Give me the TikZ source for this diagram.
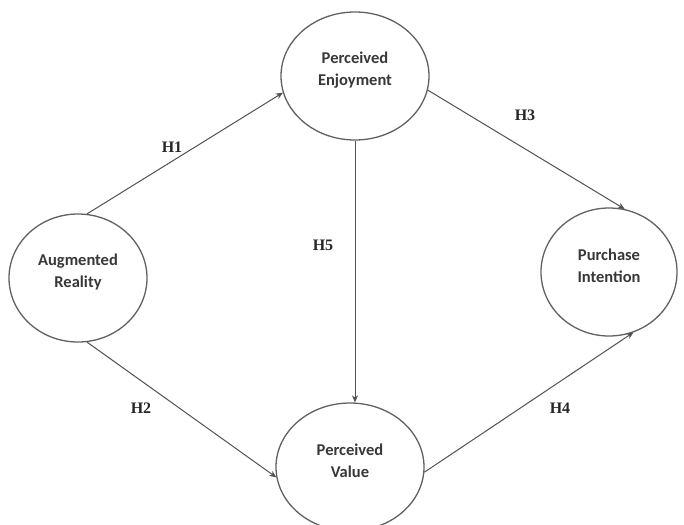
\documentclass[tikz,border=0pt]{standalone}
\usepackage{fontspec}
\setmainfont{Liberation Serif}
\newfontfamily\nodefont{Carlito}
\usetikzlibrary{shapes.geometric,arrows.meta}
\begin{document}
\begin{tikzpicture}[x=1pt,y=-1pt,
  construct/.style={draw=black!62,line width=1.3pt,ellipse,minimum width=148pt,minimum height=128pt,inner sep=0pt},
  ctext/.style={font=\nodefont\bfseries\fontsize{16.5}{22}\selectfont,text=black!78,align=center},
  hyp/.style={font=\bfseries\fontsize{16}{19}\selectfont,text=black!85},
  link/.style={draw=black!68,line width=1pt,-{Stealth[length=7pt,width=6pt]}}]
\useasboundingbox[fill=white] (0,0) rectangle (684,524);
\node[construct] (pe) at (355,76) {};
\node[construct,minimum width=138pt] (ar) at (78,278) {};
\node[construct,minimum width=136pt] (pi) at (609,272) {};
\node[construct] (pv) at (350,467) {};
\node[ctext] (pe-t) at (355,70) {Perceived\\Enjoyment};
\node[ctext] (ar-t) at (78,272) {Augmented\\Reality};
\node[ctext] (pi-t) at (609,266) {Purchase\\Intention};
\node[ctext] (pv-t) at (350,461) {Perceived\\Value};
\draw[link] (ar.82) -- (pe.193);
\draw[link] (pe.349) -- (pi.76);
\draw[link] (pe.south) -- (pe.south |- pv.north);
\draw[link] (ar.278) -- (pv.188);
\draw[link] (pv.356) -- (pi.292);
\node[hyp] (h1) at (172,147) {H1};
\node[hyp] (h2) at (141,408) {H2};
\node[hyp] (h3) at (525,115) {H3};
\node[hyp] (h4) at (560,408) {H4};
\node[hyp] (h5) at (323,245) {H5};
\end{tikzpicture}
\end{document}
